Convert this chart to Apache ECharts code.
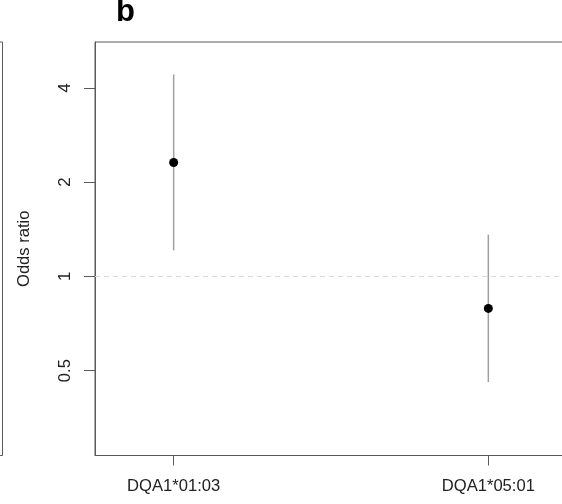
<!DOCTYPE html>
<html>
<head>
    <meta charset="utf-8">
    <title>Odds ratio</title>
    <script src="https://cdn.jsdelivr.net/npm/echarts@6/dist/echarts.min.js"></script>
</head>
<body style="margin:0;background-color:#fff;">
    <div id="main" style="width:562px;height:504px;"></div>
    <script type="text/javascript">
        // 等位基因
        var alleles = ['DQA1*01:03', 'DQA1*05:01'];
        // 位置
        var positions = [1, 2];
        // 比值比
        var oddsRatio = [2.31, 0.79];
        // 置信区间
        var ciLower = [1.21, 0.46];
        var ciUpper = [4.41, 1.36];
        // y 轴刻度
        var yTicks = [0.5, 1, 2, 4];

        var font = '"Liberation Sans", Arial, Helvetica, sans-serif';
        var axisColor = '#5a5a5a';

        var points = positions.map(function (p, i) { return [p, oddsRatio[i]]; });
        var bars = positions.map(function (p, i) { return [p, ciLower[i], ciUpper[i]]; });

        var myChart = echarts.init(document.getElementById('main'));

        var option = {
            animation: false,
            title: {
                text: 'b',
                left: 116,
                top: -3,
                padding: 0,
                textStyle: { fontFamily: font, fontSize: 31, fontWeight: 'bold', color: '#000' }
            },
            grid: [
                { left: 95, top: 42, width: 472, height: 413.5, show: true, borderColor: axisColor, borderWidth: 1, outerBoundsMode: 'none' },
                // 左边另一张图的边框
                { left: -300, top: 42, width: 302.5, height: 413.5, show: true, borderColor: axisColor, borderWidth: 1, outerBoundsMode: 'none' }
            ],
            xAxis: [
                {
                    type: 'value',
                    min: 0.75,
                    max: 2.25,
                    splitLine: { show: false },
                    axisLine: { show: true, lineStyle: { color: axisColor } },
                    axisTick: { show: true, length: 10, customValues: positions, lineStyle: { color: axisColor } },
                    axisLabel: {
                        customValues: positions,
                        margin: 22,
                        fontFamily: font,
                        fontSize: 16.6,
                        color: '#222',
                        formatter: function (v) { return alleles[positions.indexOf(v)]; }
                    }
                },
                { gridIndex: 1, type: 'value', show: false }
            ],
            yAxis: [
                {
                    type: 'log',
                    logBase: 2,
                    min: 0.268,
                    max: 5.6,
                    name: 'Odds ratio',
                    nameLocation: 'middle',
                    nameGap: 62,
                    nameTextStyle: { fontFamily: font, fontSize: 16.6, color: '#222' },
                    splitLine: { show: false },
                    axisLine: { show: true, lineStyle: { color: axisColor } },
                    axisTick: { show: true, length: 11, customValues: yTicks, lineStyle: { color: axisColor } },
                    axisLabel: {
                        customValues: yTicks,
                        rotate: 90,
                        margin: 21,
                        fontFamily: font,
                        fontSize: 16.6,
                        color: '#222'
                    }
                },
                { gridIndex: 1, type: 'value', show: false }
            ],
            series: [
                {
                    type: 'custom',
                    data: bars,
                    renderItem: function (params, api) {
                        var a = api.coord([api.value(0), api.value(1)]);
                        var b = api.coord([api.value(0), api.value(2)]);
                        return {
                            type: 'line',
                            shape: { x1: a[0], y1: a[1], x2: b[0], y2: b[1] },
                            style: { stroke: '#a0a0a0', lineWidth: 1.5 }
                        };
                    },
                    z: 2
                },
                {
                    type: 'scatter',
                    data: points,
                    symbol: 'circle',
                    symbolSize: 9,
                    itemStyle: { color: '#000', opacity: 1 },
                    z: 3,
                    markLine: {
                        silent: true,
                        symbol: 'none',
                        label: { show: false },
                        lineStyle: { color: '#d8d8d8', type: [5, 4], width: 1 },
                        data: [{ yAxis: 1 }]
                    }
                }
            ]
        };

        myChart.setOption(option);
    </script>
</body>
</html>
